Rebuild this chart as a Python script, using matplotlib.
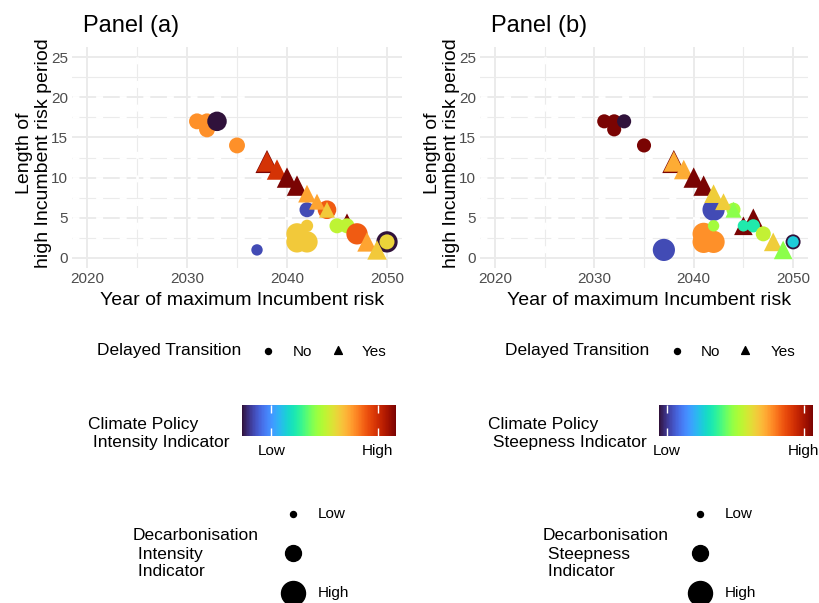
import numpy as np
import matplotlib
matplotlib.use("Agg")
import matplotlib.pyplot as plt
from matplotlib.colors import Normalize
from matplotlib.cm import ScalarMappable

plt.rcParams['font.family'] = ['Liberation Sans', 'DejaVu Sans']

# scenario data, drawn in this order (later points sit on top)
years   = [2031, 2032, 2032, 2033, 2035, 2037, 2042, 2041, 2041, 2042, 2042, 2044,
           2045, 2046, 2045, 2046, 2047, 2050, 2050,
           2038, 2038, 2039, 2040, 2041, 2042, 2043, 2044, 2048, 2049]
lengths = [17, 16, 17, 17, 14, 1, 6, 3, 2, 2, 4, 6,
           4, 5, 4, 4, 3, 2, 2,
           12, 12, 11, 10, 9, 8, 7, 6, 2, 1]
delayed = ['No'] * 12 + ['Yes', 'Yes'] + ['No'] * 5 + ['Yes'] * 10

# panel (a): intensity indicators (0 = low, 1 = high)
policy_a = [0.73, 0.73, 0.73, 0.00, 0.73, 0.08, 0.08, 0.64, 0.64, 0.64, 0.64, 0.80,
            1.00, 1.00, 0.54, 0.54, 0.80, 0.00, 0.62,
            1.00, 0.87, 0.87, 1.00, 1.00, 0.70, 0.70, 0.64, 0.70, 0.64]
decarb_a = [0.55, 0.55, 0.55, 0.75, 0.55, 0.30, 0.50, 0.85, 0.85, 0.85, 0.35, 0.70,
            0.15, 0.15, 0.50, 0.50, 0.85, 0.85, 0.50,
            0.95, 0.80, 0.80, 0.80, 0.80, 0.65, 0.55, 0.55, 0.75, 0.75]

# panel (b): steepness indicators
policy_b = [1.00, 1.00, 1.00, 0.00, 1.00, 0.08, 0.08, 0.73, 0.73, 0.73, 0.50, 0.50,
            1.00, 1.00, 0.35, 0.35, 0.55, 0.00, 0.28,
            1.00, 0.69, 0.69, 1.00, 1.00, 0.63, 0.63, 0.47, 0.63, 0.47]
decarb_b = [0.45, 0.45, 0.45, 0.45, 0.45, 0.90, 0.90, 0.90, 0.90, 0.90, 0.30, 0.45,
            0.70, 0.70, 0.30, 0.40, 0.50, 0.50, 0.30,
            0.95, 0.80, 0.75, 0.80, 0.80, 0.70, 0.60, 0.55, 0.70, 0.70]

x_ticks = [2020, 2030, 2040, 2050]
y_ticks = [0, 5, 10, 15, 20, 25]
size_legend = [0.0, 0.55, 1.0]
cbar_ticks_a = [0.19, 0.88]
cbar_ticks_b = [0.05, 0.94]

W, H = 819, 603
fig = plt.figure(figsize=(W / 100, H / 100), dpi=100)
norm = Normalize(0, 1)
cmap = plt.get_cmap('turbo')


def msize(v):
    d = 6 + 18 * v  # diameter in px
    return (d * 0.72) ** 2


def box(l, t, r, b):
    return [l / W, 1 - b / H, (r - l) / W, (b - t) / H]


def panel(rect, policy, decarb):
    ax = fig.add_axes(rect)
    ax.set_xlim(2018.5, 2051.5)
    ax.set_ylim(-1.25, 26.25)
    ax.set_xticks(x_ticks)
    ax.set_xticks([2025, 2035, 2045], minor=True)
    ax.set_yticks(y_ticks)
    ax.set_yticks([2.5, 7.5, 12.5, 17.5, 22.5], minor=True)
    ax.grid(which='major', color='#EBEBEB', lw=1.4)
    ax.grid(which='minor', color='#EBEBEB', lw=0.8)
    ax.set_axisbelow(True)
    for s in ax.spines.values():
        s.set_visible(False)
    ax.tick_params(which='both', length=0, labelsize=11, labelcolor='#4D4D4D', pad=3)

    # broken white dashes over the left part of the grid
    for yy, xe in [(20, 2036), (17.5, 2031), (12.5, 2037), (10, 2039),
                   (7.5, 2040), (5, 2041), (2.5, 2041)]:
        ax.plot([2018.5, xe], [yy, yy], color='white', lw=2, ls=(0, (2.5, 6)), zorder=1)
    ax.plot([2025, 2025], [-1.25, 26.25], color='white', lw=2, ls=(3, (2.5, 6)), zorder=1)

    for x, y, d, c, s in zip(years, lengths, delayed, policy, decarb):
        m = '^' if d == 'Yes' else 'o'
        ax.scatter(x, y, s=msize(s), marker=m, c=[cmap(norm(c))],
                   edgecolors='none', zorder=2)

    ax.set_xlabel('Year of maximum Incumbent risk', fontsize=14, labelpad=4)
    ax.set_ylabel('Length of\nhigh Incumbent risk period', fontsize=14, labelpad=-1)
    ax.xaxis.label.set_x(0.515)
    ax.yaxis.label.set_y(0.52)
    return ax


ax_a = panel(box(72, 47, 402, 268), policy_a, decarb_a)
ax_b = panel(box(480, 47, 808, 268), policy_b, decarb_b)

fig.text(83 / W, 1 - 32 / H, 'Panel (a)', fontsize=17, va='baseline')
fig.text(491 / W, 1 - 32 / H, 'Panel (b)', fontsize=17, va='baseline')

# legends, in pixel space
lg = fig.add_axes([0, 0, 1, 1])
lg.set_xlim(0, W)
lg.set_ylim(H, 0)
lg.axis('off')


def t(x, y, s, **kw):
    kw.setdefault('fontsize', 12.5)
    kw.setdefault('va', 'center')
    lg.text(x, y, s, **kw)


def legends(x0, dot_x, no_x, tri_x, yes_x, cb_title_x, cb_l, cb_r, ticks,
            cb_title, sz_title_x, sz_x, sz_title):
    # shape legend
    t(x0, 351, 'Delayed Transition')
    lg.scatter(dot_x, 351, s=msize(0.0), marker='o', c='black')
    t(no_x, 352, 'No', fontsize=11)
    lg.scatter(tri_x, 350, s=msize(0.1), marker='^', c='black')
    t(yes_x, 352, 'Yes', fontsize=11)

    # colour bar
    t(cb_title_x, 433, cb_title, linespacing=1.25)
    cax = fig.add_axes(box(cb_l, 405, cb_r, 436))
    cb = fig.colorbar(ScalarMappable(norm=norm, cmap=cmap), cax=cax,
                      orientation='horizontal', ticks=ticks)
    cb.set_ticklabels(['Low', 'High'])
    cb.outline.set_visible(False)
    cb.ax.minorticks_off()
    cax.tick_params(direction='in', color='white', length=6, width=1,
                    top=True, bottom=True, labelsize=11, pad=6)

    # size legend
    for v, yy in zip(size_legend, [514, 553, 593]):
        lg.scatter(sz_x, yy, s=msize(v), marker='o', c='black')
    t(sz_x + 25, 514, 'Low', fontsize=11)
    t(sz_x + 25, 593, 'High', fontsize=11)
    t(sz_title_x, 554, sz_title, linespacing=1.25)


legends(97, 268, 293, 338, 362, 88, 242, 396, cbar_ticks_a,
        'Climate Policy\n Intensity Indicator', 133, 293,
        'Decarbonisation\n Intensity\n Indicator')
legends(505, 677, 701, 745, 771, 488, 659, 813, cbar_ticks_b,
        'Climate Policy\n Steepness Indicator', 543, 700,
        'Decarbonisation\n Steepness\n Indicator')

fig.savefig('out.png', dpi=100)
